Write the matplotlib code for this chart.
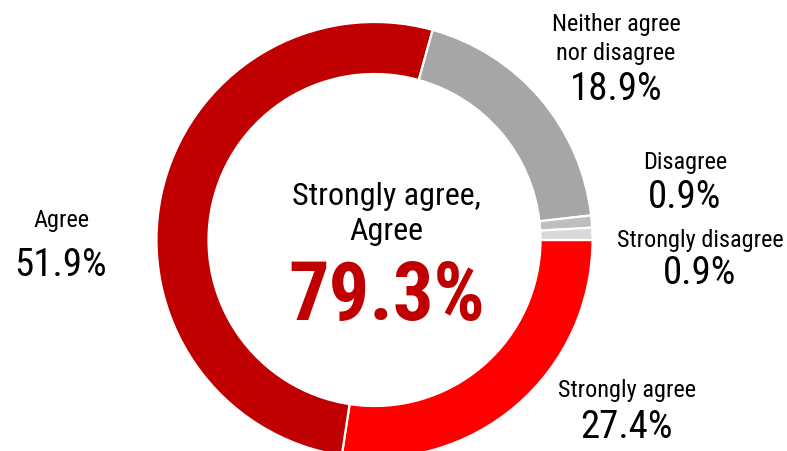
import matplotlib
matplotlib.use("Agg")
import matplotlib.pyplot as plt

# survey answers, in drawing order (clockwise from 3 o'clock)
categories = ["Strongly agree", "Agree", "Neither agree\nnor disagree",
              "Disagree", "Strongly disagree"]
shares = [27.4, 51.9, 18.9, 0.9, 0.9]
colors = ["#FF0000", "#C00000", "#A6A6A6", "#BFBFBF", "#D9D9D9"]

# share of positive answers shown in the middle
center_title = "Strongly agree,\nAgree"
center_value = shares[0] + shares[1]

W, H = 787, 451
plt.rcParams["font.family"] = ["Roboto Condensed", "DejaVu Sans"]

fig = plt.figure(figsize=(W / 100, H / 100), dpi=100)
ax = fig.add_axes([0, 0, 1, 1])

# ring geometry in pixel units (y measured from the bottom)
cx, cy = 374.5, H - 240
r_out, ring = 218, 52

ax.pie(shares, colors=colors, startangle=0, counterclock=False,
       center=(cx, cy), radius=r_out,
       wedgeprops=dict(width=ring, edgecolor="white", linewidth=1.6))

ax.set_xlim(0, W)
ax.set_ylim(0, H)
ax.set_aspect("auto")
ax.axis("off")


def put(x, y_top, s, size, **kw):
    ax.text(x, H - y_top, s, ha="center", va="baseline", fontsize=size, **kw)


LBL, NUM = 17.5, 28

# outside labels: name lines then percentage
label_pos = {
    "Strongly agree": (627, [397], 438),
    "Agree": (61, [227], 276),
    "Neither agree\nnor disagree": (616, [31, 60], 100),
    "Disagree": (685, [169], 208),
    "Strongly disagree": (700, [247], 284),
}
for name, val in zip(categories, shares):
    x, line_ys, num_y = label_pos[name]
    for line, ly in zip(name.split("\n"), line_ys):
        put(x, ly, line, LBL)
    put(x, num_y, f"{val:.1f}%", NUM)

# center text
for line, ly in zip(center_title.split("\n"), [205, 240]):
    put(386, ly, line, 23)
put(386.5, 320, f"{center_value:.1f}%", 58, color="#C00000", fontweight="bold")

fig.savefig("out.png", dpi=100)
